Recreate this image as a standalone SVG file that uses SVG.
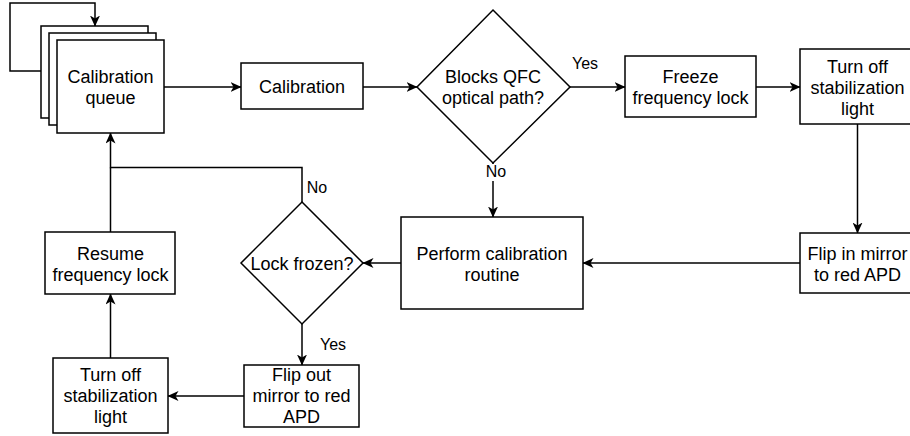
<svg xmlns="http://www.w3.org/2000/svg" width="910" height="436" viewBox="0 0 910 436">
<style>
.box{fill:#fff;stroke:#000;stroke-width:1.5}
.edge{fill:none;stroke:#000;stroke-width:1.5}
text{font-family:"Liberation Sans",Arial,Helvetica,sans-serif;font-size:18px;fill:#000;text-anchor:middle}
.lbl{font-size:16px}
</style>
<defs>
<marker id="arr" viewBox="0 0 11 10" refX="10.5" refY="5" markerWidth="11" markerHeight="10" markerUnits="userSpaceOnUse" orient="auto">
<path d="M0,0 L11,5 L0,10 L3,5 Z" fill="#000"/>
</marker>
</defs>
<rect width="910" height="436" fill="#fff"/>
<g id="connectors">
<path class="edge" d="M41,71 H10 V3 H95 V26" marker-end="url(#arr)"/>
<path class="edge" d="M164,87 H241" marker-end="url(#arr)"/>
<path class="edge" d="M363,87 H417" marker-end="url(#arr)"/>
<path class="edge" d="M570,87 H625" marker-end="url(#arr)"/>
<path class="edge" d="M756,87 H800" marker-end="url(#arr)"/>
<path class="edge" d="M857.5,124 V233" marker-end="url(#arr)"/>
<path class="edge" d="M800,263 H583" marker-end="url(#arr)"/>
<path class="edge" d="M493,163 V217" marker-end="url(#arr)"/>
<path class="edge" d="M401,263 H363" marker-end="url(#arr)"/>
<path class="edge" d="M302,202 V167.5 H110.5 V133" marker-end="url(#arr)"/>
<path class="edge" d="M110.5,232 V167.5"/>
<path class="edge" d="M302,324 V365" marker-end="url(#arr)"/>
<path class="edge" d="M244,396 H168" marker-end="url(#arr)"/>
<path class="edge" d="M110.5,358 V294" marker-end="url(#arr)"/>
<rect x="484" y="164" width="25" height="17" fill="#fff"/>
<text class="lbl" x="496" y="177">No</text>
<text class="lbl" x="585" y="69">Yes</text>
<text class="lbl" x="317" y="193">No</text>
<text class="lbl" x="333" y="350">Yes</text>
</g>
<g id="calibration-queue">
<rect class="box" x="41" y="26" width="107" height="92"/>
<rect class="box" x="49" y="33" width="107" height="92"/>
<rect class="box" x="57" y="40" width="107" height="93"/>
<text x="110.5" y="83">Calibration</text>
<text x="110.5" y="104">queue</text>
</g>
<g id="calibration">
<rect class="box" x="241" y="63" width="122" height="46"/>
<text x="302" y="93">Calibration</text>
</g>
<g id="blocks-qfc">
<path class="box" d="M493,10 L570,87 L493,163 L417,87 Z"/>
<text x="493" y="83">Blocks QFC</text>
<text x="493" y="104">optical path?</text>
</g>
<g id="freeze-lock">
<rect class="box" x="625" y="56" width="131" height="61"/>
<text x="690.5" y="83">Freeze</text>
<text x="690.5" y="104">frequency lock</text>
</g>
<g id="turn-off-top">
<rect class="box" x="800" y="49" width="115" height="75"/>
<text x="857.5" y="73">Turn off</text>
<text x="857.5" y="94">stabilization</text>
<text x="857.5" y="115">light</text>
</g>
<g id="flip-in">
<rect class="box" x="800" y="233" width="115" height="60"/>
<text x="857.5" y="260">Flip in mirror</text>
<text x="857.5" y="281">to red APD</text>
</g>
<g id="perform">
<rect class="box" x="401" y="217" width="182" height="92"/>
<text x="492" y="260">Perform calibration</text>
<text x="492" y="281">routine</text>
</g>
<g id="lock-frozen">
<path class="box" d="M302,202 L363,263 L302,324 L241,263 Z"/>
<text x="302" y="270">Lock frozen?</text>
</g>
<g id="resume">
<rect class="box" x="45" y="232" width="130" height="62"/>
<text x="110.5" y="260">Resume</text>
<text x="110.5" y="281">frequency lock</text>
</g>
<g id="turn-off-bottom">
<rect class="box" x="53" y="358" width="115" height="75"/>
<text x="110.5" y="381">Turn off</text>
<text x="110.5" y="402">stabilization</text>
<text x="110.5" y="423">light</text>
</g>
<g id="flip-out">
<rect class="box" x="244" y="365" width="115" height="62"/>
<text x="301.5" y="381">Flip out</text>
<text x="301.5" y="402">mirror to red</text>
<text x="301.5" y="423">APD</text>
</g>
</svg>
